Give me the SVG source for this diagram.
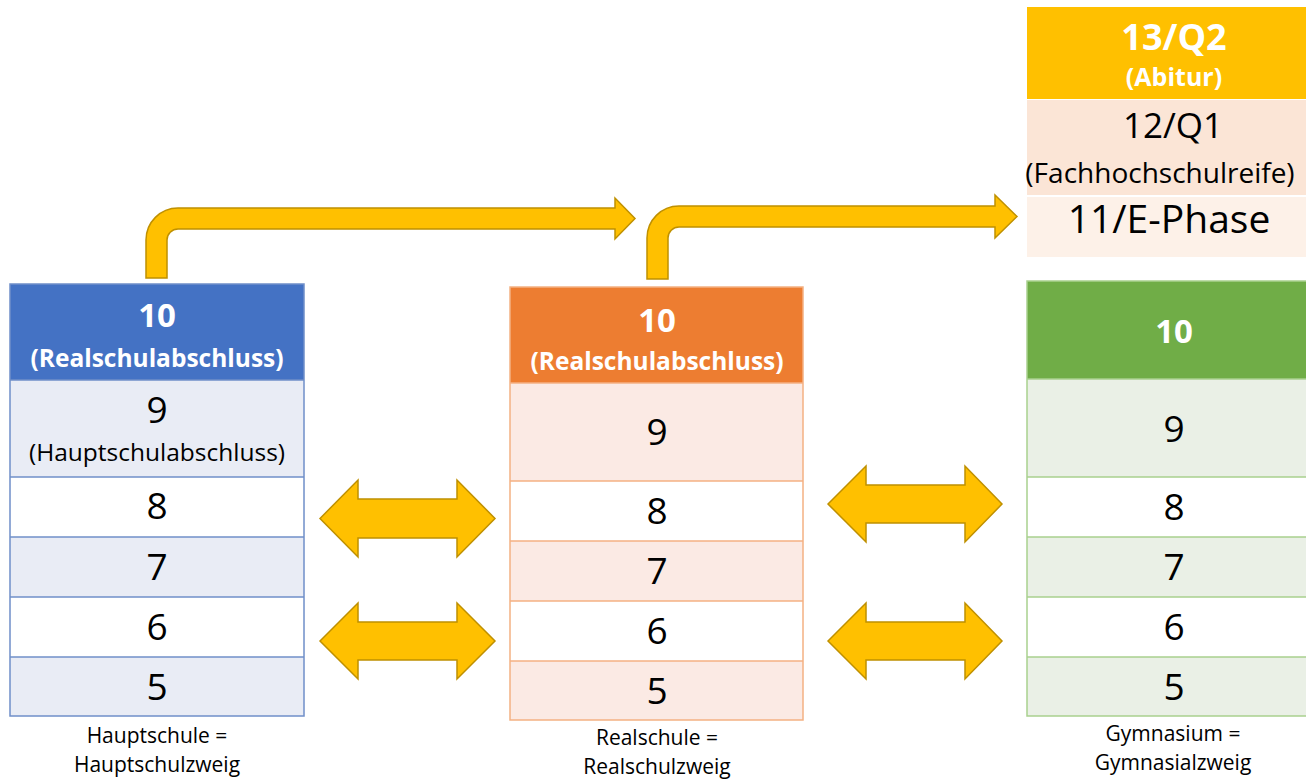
<svg xmlns="http://www.w3.org/2000/svg" width="1306" height="783" viewBox="0 0 1306 783">
<style>
text{font-family:"Open Sans","Noto Sans",sans-serif;text-anchor:middle;fill:#000}
.hd{font-weight:bold;fill:#fff}
.ten{font-size:33px}
.hsub{font-size:24.5px}
.big{font-size:37px}
.sub{font-size:24.5px}
.lab{font-size:21px}
.arrow{fill:#FFC000;stroke:#BF9000;stroke-width:1.5;stroke-linejoin:miter}
.bl{stroke:#6F8FC9;stroke-width:1.5}
.or{stroke:#F4B183;stroke-width:1.5}
.gr{stroke:#A9D18E;stroke-width:1.5}
</style>
<rect width="1306" height="783" fill="#fff"/>

<g id="oberstufe">
<rect x="1027" y="7" width="300" height="92" fill="#FFC000"/>
<rect x="1027" y="100" width="300" height="95" fill="#FBE5D6"/>
<rect x="1027" y="197" width="300" height="60" fill="#FDF1E8"/>
<text class="hd" x="1174" y="50" font-size="36">13/Q2</text>
<text class="hd" x="1174" y="86" font-size="25">(Abitur)</text>
<text x="1173" y="138" font-size="35">12/Q1</text>
<text x="1160" y="183" font-size="28">(Fachhochschulreife)</text>
<text x="1169" y="233" font-size="39">11/E-Phase</text>
</g>

<g id="hauptschule">
<rect x="10" y="284" width="294" height="96" fill="#4472C4"/>
<rect x="10" y="380" width="294" height="97" fill="#E9ECF5"/>
<rect x="10" y="477" width="294" height="60" fill="#fff"/>
<rect x="10" y="537" width="294" height="60" fill="#E9ECF5"/>
<rect x="10" y="597" width="294" height="60" fill="#fff"/>
<rect x="10" y="657" width="294" height="59" fill="#E9ECF5"/>
<g class="bl" fill="none">
<rect x="10" y="284" width="294" height="432"/>
<line x1="10" y1="380" x2="304" y2="380"/>
<line x1="10" y1="477" x2="304" y2="477"/>
<line x1="10" y1="537" x2="304" y2="537"/>
<line x1="10" y1="597" x2="304" y2="597"/>
<line x1="10" y1="657" x2="304" y2="657"/>
</g>
<text class="hd ten" x="157" y="327">10</text>
<text class="hd hsub" x="157" y="367">(Realschulabschluss)</text>
<text class="big" x="157" y="423">9</text>
<text class="sub" x="157" y="461">(Hauptschulabschluss)</text>
<text class="big" x="157" y="519">8</text>
<text class="big" x="157" y="580">7</text>
<text class="big" x="157" y="640">6</text>
<text class="big" x="157" y="700">5</text>
<text class="lab" x="157" y="743">Hauptschule =</text>
<text class="lab" x="157" y="772">Hauptschulzweig</text>
</g>

<g id="realschule">
<rect x="510" y="287" width="293" height="96" fill="#ED7D31"/>
<rect x="510" y="383" width="293" height="98" fill="#FBEAE4"/>
<rect x="510" y="481" width="293" height="60" fill="#fff"/>
<rect x="510" y="541" width="293" height="60" fill="#FBEAE4"/>
<rect x="510" y="601" width="293" height="60" fill="#fff"/>
<rect x="510" y="661" width="293" height="59" fill="#FBEAE4"/>
<g class="or" fill="none">
<rect x="510" y="287" width="293" height="433"/>
<line x1="510" y1="383" x2="803" y2="383"/>
<line x1="510" y1="481" x2="803" y2="481"/>
<line x1="510" y1="541" x2="803" y2="541"/>
<line x1="510" y1="601" x2="803" y2="601"/>
<line x1="510" y1="661" x2="803" y2="661"/>
</g>
<text class="hd ten" x="657" y="332">10</text>
<text class="hd hsub" x="657" y="370">(Realschulabschluss)</text>
<text class="big" x="657" y="445">9</text>
<text class="big" x="657" y="524">8</text>
<text class="big" x="657" y="584">7</text>
<text class="big" x="657" y="644">6</text>
<text class="big" x="657" y="704">5</text>
<text class="lab" x="657" y="745">Realschule =</text>
<text class="lab" x="657" y="774">Realschulzweig</text>
</g>

<g id="gymnasium">
<rect x="1027" y="281" width="300" height="98" fill="#70AD47"/>
<rect x="1027" y="379" width="300" height="98" fill="#EAF0E6"/>
<rect x="1027" y="477" width="300" height="60" fill="#fff"/>
<rect x="1027" y="537" width="300" height="60" fill="#EAF0E6"/>
<rect x="1027" y="597" width="300" height="60" fill="#fff"/>
<rect x="1027" y="657" width="300" height="59" fill="#EAF0E6"/>
<g class="gr" fill="none">
<rect x="1027" y="281" width="300" height="435"/>
<line x1="1027" y1="379" x2="1327" y2="379"/>
<line x1="1027" y1="477" x2="1327" y2="477"/>
<line x1="1027" y1="537" x2="1327" y2="537"/>
<line x1="1027" y1="597" x2="1327" y2="597"/>
<line x1="1027" y1="657" x2="1327" y2="657"/>
</g>
<text class="hd ten" x="1174" y="343">10</text>
<text class="big" x="1174" y="442">9</text>
<text class="big" x="1174" y="520">8</text>
<text class="big" x="1174" y="580">7</text>
<text class="big" x="1174" y="640">6</text>
<text class="big" x="1174" y="700">5</text>
<text class="lab" x="1173" y="741">Gymnasium =</text>
<text class="lab" x="1173" y="770">Gymnasialzweig</text>
</g>

<g id="connectors">
<path class="arrow" d="M146,278 L146,240 A32,32 0 0 1 178,208 L615,208 L615,198 L635,218.5 L615,239 L615,229 L178,229 A11,11 0 0 0 167,240 L167,278 Z"/>
<path class="arrow" d="M647,279 L647,238 A32,32 0 0 1 679,206 L995,206 L995,195 L1017,216.5 L995,238 L995,227 L679,227 A11,11 0 0 0 668,238 L668,279 Z"/>
<path class="arrow" d="M320,518.5 L358,480 L358,499 L457,499 L457,480 L495,518.5 L457,557 L457,538 L358,538 L358,557 Z"/>
<path class="arrow" d="M320,641 L358,603 L358,622 L457,622 L457,603 L495,641 L457,679 L457,660 L358,660 L358,679 Z"/>
<path class="arrow" d="M828,504 L866,466 L866,485 L965,485 L965,466 L1002,504 L965,542 L965,523 L866,523 L866,542 Z"/>
<path class="arrow" d="M828,641 L866,603 L866,622 L965,622 L965,603 L1002,641 L965,679 L965,660 L866,660 L866,679 Z"/>
</g>
</svg>
